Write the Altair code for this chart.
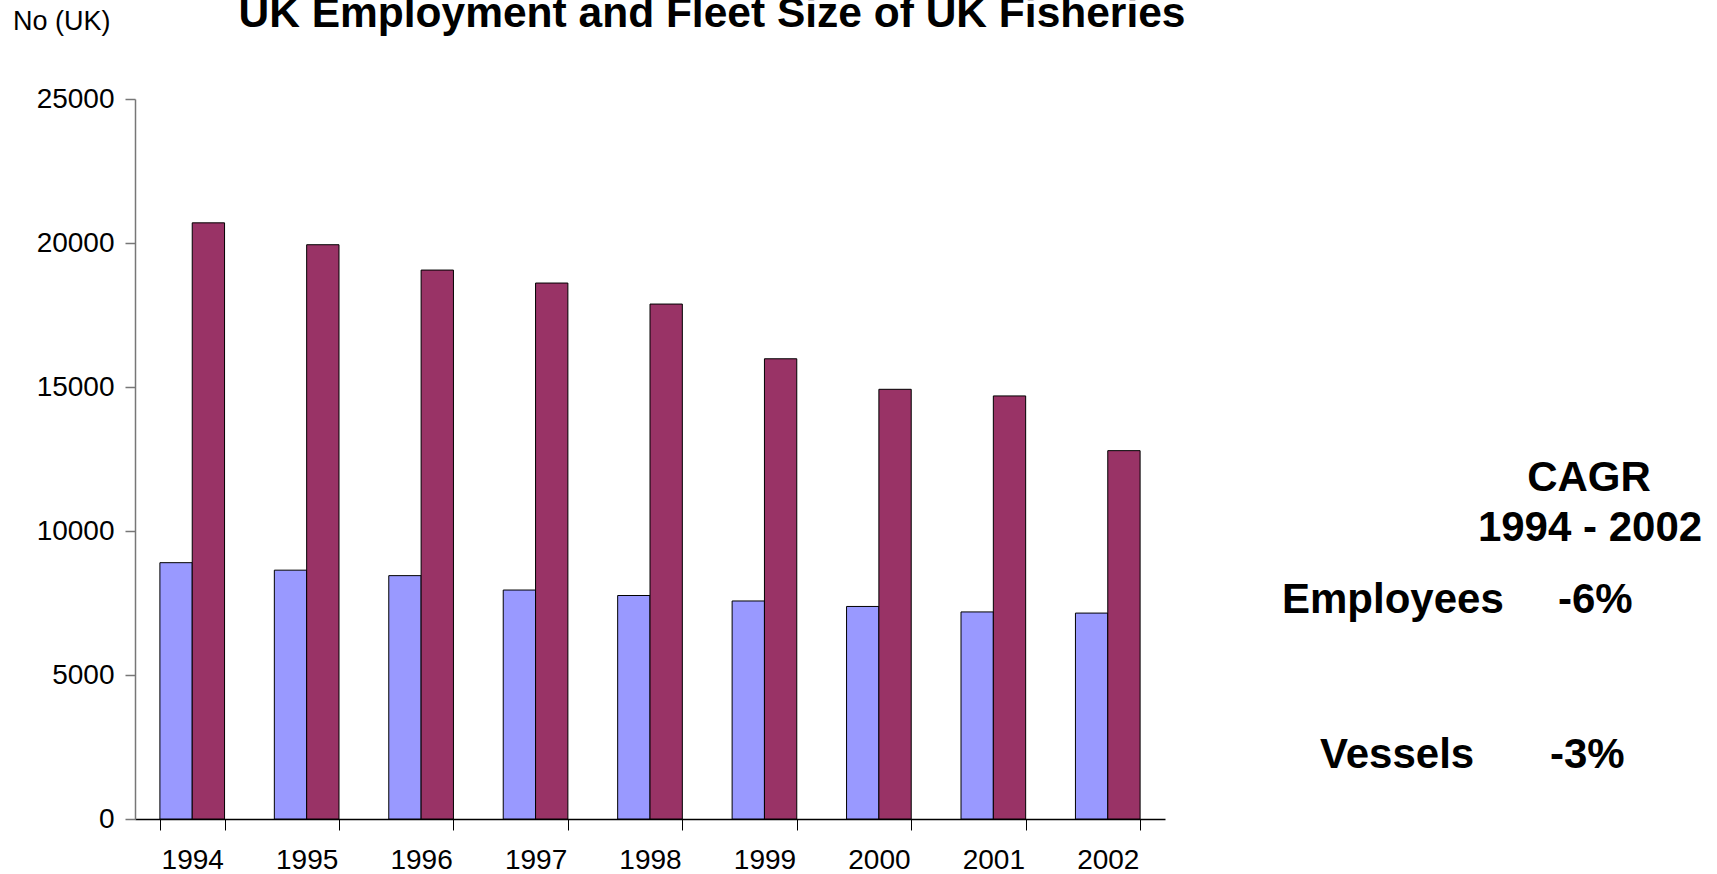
import altair as alt
import pandas as pd

years = ["1994", "1995", "1996", "1997", "1998", "1999", "2000", "2001", "2002"]
employees = [8900, 8640, 8450, 7950, 7760, 7570, 7380, 7190, 7150]
vessels = [20700, 19940, 19060, 18610, 17880, 15980, 14920, 14690, 12790]
series = ["Employees", "Vessels"]
colors = ["#9999FF", "#993366"]

rows = []
for i, y in enumerate(years):
    rows.append({"year": y, "series": series[0], "value": employees[i]})
    rows.append({"year": y, "series": series[1], "value": vessels[i]})
df = pd.DataFrame(rows)

FONT = "Liberation Sans"

bars = alt.Chart(df).mark_bar(stroke="black", strokeWidth=1).encode(
    x=alt.X("year:O", sort=years,
            scale=alt.Scale(paddingInner=0.435, paddingOuter=0.2175),
            axis=alt.Axis(title=None, labelAngle=0, labelFontSize=28, labelFont=FONT,
                          labelColor="black", domainColor="black", tickColor="black",
                          tickSize=11, labelPadding=16, tickBand="extent",
                          domainWidth=1.5, tickWidth=1)),
    xOffset=alt.XOffset("series:N", sort=series, scale=alt.Scale(paddingInner=0, paddingOuter=0)),
    y=alt.Y("value:Q", scale=alt.Scale(domain=[0, 25000], nice=False),
            axis=alt.Axis(title=None, values=[0, 5000, 10000, 15000, 20000, 25000],
                          format="d", grid=False, labelFontSize=28, labelFont=FONT,
                          labelColor="black", domainColor="#777777", tickColor="#777777",
                          tickSize=10, labelPadding=11, domainWidth=1.5, tickWidth=1.5)),
    color=alt.Color("series:N", sort=series,
                    scale=alt.Scale(domain=series, range=colors), legend=None),
)

texts = [
    {"t": "UK Employment and Fleet Size of UK Fisheries", "x": 577, "y": -72, "size": 42.5, "bold": True, "align": "center"},
    {"t": "No (UK)", "x": -122, "y": -69, "size": 27, "bold": False, "align": "left"},
    {"t": "CAGR", "x": 1454, "y": 392, "size": 42, "bold": True, "align": "center"},
    {"t": "1994 - 2002", "x": 1455, "y": 442, "size": 42, "bold": True, "align": "center"},
    {"t": "Employees", "x": 1147, "y": 514, "size": 42, "bold": True, "align": "left"},
    {"t": "-6%", "x": 1423, "y": 514, "size": 42, "bold": True, "align": "left"},
    {"t": "Vessels", "x": 1185, "y": 669, "size": 42, "bold": True, "align": "left"},
    {"t": "-3%", "x": 1415, "y": 669, "size": 42, "bold": True, "align": "left"},
]

layers = [bars]
for t in texts:
    layers.append(
        alt.Chart(pd.DataFrame({"t": [t["t"]]})).mark_text(
            font=FONT, fontSize=t["size"], fontWeight="bold" if t["bold"] else "normal",
            align=t["align"], baseline="alphabetic", color="black",
        ).encode(text="t:N", x=alt.value(t["x"]), y=alt.value(t["y"]))
    )

chart = alt.layer(*layers).properties(
    width=1030, height=720,
    background="white",
    autosize=alt.AutoSizeParams(type="none"),
    padding={"left": 135, "top": 99, "right": 552, "bottom": 55},
).configure_view(stroke="transparent", strokeWidth=0)

chart.save("out.html", embed_options={"renderer": "svg", "actions": False})
